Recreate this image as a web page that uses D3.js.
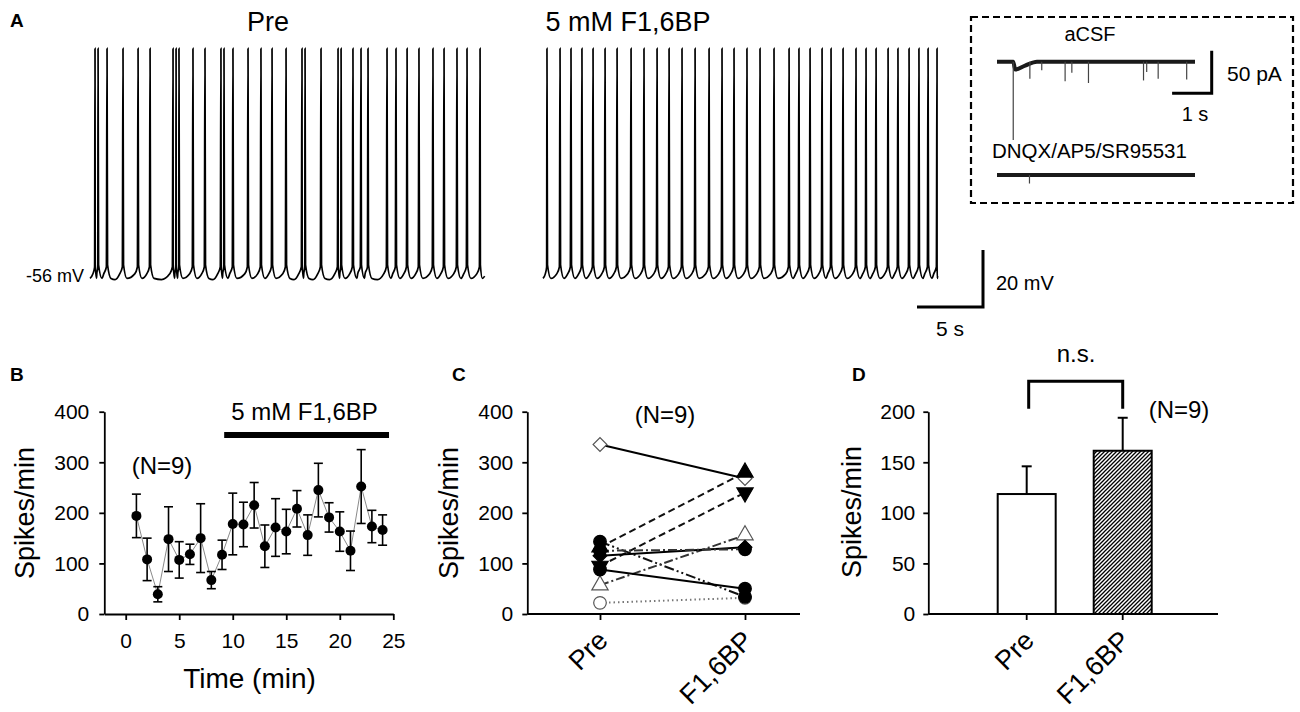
<!DOCTYPE html>
<html>
<head>
<meta charset="utf-8">
<script src="https://cdn.jsdelivr.net/npm/d3@7"></script>
<style>
body { margin: 0; background: #fff; }
svg text { font-family: "Liberation Sans", Arial, Helvetica, sans-serif; fill: #000; }
</style>
</head>
<body>
<svg id="fig" width="1300" height="712"></svg>
<script>
// ---------- data ----------
// A: spike times (s) in the two 30 s current-clamp sweeps
var preSpikes = [0.38, 0.61, 1.29, 2.50, 3.64, 4.55, 6.29, 6.52, 6.74, 7.80, 8.71, 9.92, 10.15,
    10.83, 11.97, 12.95, 13.79, 14.85, 16.06, 16.29, 17.50, 18.79, 19.02, 19.92, 20.53, 21.06,
    22.50, 23.18, 24.02, 24.92, 25.98, 26.82, 27.80, 28.56, 29.55];
var fbpSpikes = [0.30, 1.29, 2.12, 2.95, 3.79, 4.70, 5.61, 6.67, 7.65, 8.64, 9.55, 10.53, 11.52,
    12.58, 13.56, 14.47, 15.45, 16.44, 17.50, 18.64, 19.39, 20.23, 21.14, 21.82, 22.73, 23.71,
    24.47, 25.23, 26.14, 26.89, 27.73, 28.48, 29.17, 29.85];
var sweepDur = 29.9;
var restLabel = '-56 mV';

// A inset: synaptic events (time s, amplitude pA)
var acsfTimes = [0.41, 0.83, 1.13, 1.72, 1.89, 2.31, 3.70, 3.78, 4.07, 4.79];
var acsfAmps = [92, 20, 10, 23, 13, 25, 22, 12, 20, 21];
var blockTimes = [0.82];
var blockAmps = [10];
var insetDur = 5;

// B: time course
var timeMin = [1, 2, 3, 4, 5, 6, 7, 8, 9, 10, 11, 12, 13, 14, 15, 16, 17, 18, 19, 20, 21, 22, 23, 24];
var rateMean = [194, 108, 39, 148, 107, 118, 150, 67, 117, 178, 177, 215, 134, 171, 163, 208, 156, 245, 191, 163, 125, 252, 173, 166];
var rateSem = [43, 42, 15, 64, 36, 20, 68, 17, 29, 61, 44, 45, 42, 57, 44, 36, 40, 53, 29, 39, 39, 73, 32, 30];
var drugPeriod = [9.2, 24.6];
var bTicksX = [0, 5, 10, 15, 20, 25];
var bTicksY = [0, 100, 200, 300, 400];

// C: individual cells
var conditions = ['Pre', 'F1,6BP'];
var cellPre = [335, 143, 132, 95, 57, 115, 88, 22, 125];
var cellFbp = [268, 34, 280, 240, 156, 132, 50, 32, 128];
var cTicksY = [0, 100, 200, 300, 400];

// D: mean +/- SEM
var barMean = [118.6, 161.4];
var barSem = [27.4, 32.6];
var dTicksY = [0, 50, 100, 150, 200];

// ---------- styles ----------
var cellMarker = ['diamondOpen', 'circle', 'triangle', 'triangleDown', 'triangleOpen', 'diamond', 'circle', 'circleOpen', 'circle'];
var cellDash = [null, '10,3,2,3,2,3', '7,4', '7,4', '9,3,2,3', null, null, '1.5,3', '9,3,2,3'];
var cellStroke = ['#000', '#111', '#111', '#111', '#333', '#000', '#000', '#777', '#333'];

var svg = d3.select('#fig');

function label(x, y, s, size, anchor, weight) {
    return svg.append('text')
        .attr('x', x).attr('y', y)
        .attr('font-size', size)
        .attr('text-anchor', anchor || 'start')
        .attr('font-weight', weight || 'normal')
        .text(s);
}

function styleAxis(g, size) {
    g.attr('font-family', null).attr('font-size', null);
    g.selectAll('path, line').attr('stroke', '#000').attr('stroke-width', 1.8);
    g.selectAll('text').attr('font-size', size);
}

// ================= Panel A =================
label(10, 27, 'A', 19, 'start', 'bold');
label(268, 31, 'Pre', 27, 'middle');
label(628, 31, '5 mM F1,6BP', 27, 'middle');

var vY = d3.scaleLinear().domain([-56, -36]).range([275, 218]);
var preX = d3.scaleLinear().domain([0, 30]).range([90, 486]);
var fbpX = d3.scaleLinear().domain([0, 30]).range([543, 939]);

// build the membrane potential path around each spike time
function sweep(spikes, dur) {
    var pts = [[0, -57.2]];
    for (var i = 0; i < spikes.length; i++) {
        var t = spikes[i];
        var before = t - (i ? spikes[i - 1] : 0);
        var after = (i < spikes.length - 1 ? spikes[i + 1] : dur) - t;
        var fb = Math.min(1, before / 0.6), fa = Math.min(1, after / 0.6);
        if (before > 1.2) pts.push([t - before / 2, -57.6]);
        pts.push([t - 0.25 * fb, -55.6], [t - 0.05 * fb, -53.2], [t, 23.5],
                 [t + 0.04 * fa, -52.4], [t + 0.3 * fa, -57.2]);
    }
    pts.push([dur, -56.4]);
    pts.sort(function(a, b) { return a[0] - b[0]; });
    return pts;
}

[[preSpikes, preX], [fbpSpikes, fbpX]].forEach(function(s) {
    var line = d3.line()
        .x(function(d) { return s[1](d[0]); })
        .y(function(d) { return vY(d[1]); })
        .curve(d3.curveMonotoneX);
    svg.append('path')
        .attr('d', line(sweep(s[0], sweepDur)))
        .attr('fill', 'none')
        .attr('stroke', '#000')
        .attr('stroke-width', 1.7);
});

label(84, 282, restLabel, 18, 'end');

// scale bar 20 mV / 5 s
var barX = 983, barY = 307;
var mv20 = vY(-56) - vY(-36), s5 = preX(5) - preX(0);
svg.append('path')
    .attr('d', 'M' + (barX - s5) + ',' + barY + 'H' + barX + 'V' + (barY - mv20))
    .attr('fill', 'none').attr('stroke', '#000').attr('stroke-width', 3);
label(996, 290, '20 mV', 20, 'start');
label(barX - s5 / 2, 336, '5 s', 21, 'middle');

// inset
svg.append('rect')
    .attr('x', 971).attr('y', 17).attr('width', 322).attr('height', 186)
    .attr('fill', 'none').attr('stroke', '#000').attr('stroke-width', 2.2)
    .attr('stroke-dasharray', '7,4');

var insX = d3.scaleLinear().domain([0, insetDur]).range([997, 1195]);
var acsfY = d3.scaleLinear().domain([0, -50]).range([61.7, 104.3]);
var blockY = d3.scaleLinear().domain([0, -50]).range([175, 217.6]);

function currentTrace(times, amps, yS) {
    var band = [[0, 0]];
    times.forEach(function(t, i) {
        if (amps[i] > 50) band.push([t, 0], [t + 0.05, -amps[i] * 0.1], [t + 0.3, -amps[i] * 0.05], [t + 0.6, 0]);
    });
    band.push([insetDur, 0]);
    svg.append('path')
        .attr('d', d3.line().x(function(d) { return insX(d[0]); }).y(function(d) { return yS(d[1]); })
            .curve(d3.curveMonotoneX)(band))
        .attr('fill', 'none').attr('stroke', '#1a1a1a').attr('stroke-width', 4);
    svg.append('g').selectAll('line')
        .data(times)
        .join('line')
        .attr('x1', function(d) { return insX(d); })
        .attr('x2', function(d) { return insX(d); })
        .attr('y1', yS(0))
        .attr('y2', function(d, i) { return yS(-amps[i]); })
        .attr('stroke', '#444').attr('stroke-width', 1.2);
}
currentTrace(acsfTimes, acsfAmps, acsfY);
currentTrace(blockTimes, blockAmps, blockY);

label(1090, 41, 'aCSF', 20, 'middle');
label(992, 158, 'DNQX/AP5/SR95531', 20.5, 'start');

var ibX = 1211.7, ibY = 93.3;
var pa50 = acsfY(-50) - acsfY(0), s1 = insX(1) - insX(0);
svg.append('path')
    .attr('d', 'M' + (ibX - s1) + ',' + ibY + 'H' + ibX + 'V' + (ibY - pa50))
    .attr('fill', 'none').attr('stroke', '#000').attr('stroke-width', 3);
label(1227, 81, '50 pA', 21, 'start');
label(1195, 121, '1 s', 20, 'middle');

// ================= Panel B =================
label(10, 381, 'B', 19, 'start', 'bold');

var xB = d3.scaleLinear().domain([-2, 25]).range([104.3, 393.3]);
var yB = d3.scaleLinear().domain([0, 400]).range([614, 411.7]);

svg.append('g').attr('transform', 'translate(0,614)')
    .call(d3.axisBottom(xB).tickValues(bTicksX).tickSize(6).tickSizeOuter(0).tickPadding(13))
    .call(styleAxis, 21);
svg.append('g').attr('transform', 'translate(104.3,0)')
    .call(d3.axisLeft(yB).tickValues(bTicksY).tickSize(5).tickSizeOuter(0).tickPadding(10))
    .call(styleAxis, 21);

label(249.5, 688, 'Time (min)', 28, 'middle');
svg.append('text').attr('transform', 'translate(34,513) rotate(-90)')
    .attr('text-anchor', 'middle').attr('font-size', 27).text('Spikes/min');

var bData = timeMin.map(function(t, i) { return { t: t, m: rateMean[i], e: rateSem[i] }; });

svg.append('path')
    .attr('d', d3.line().x(function(d) { return xB(d.t); }).y(function(d) { return yB(d.m); })(bData))
    .attr('fill', 'none').attr('stroke', '#8a8a8a').attr('stroke-width', 1);

var eb = svg.append('g').attr('stroke', '#000').attr('stroke-width', 1.6);
eb.selectAll('.v').data(bData).join('line')
    .attr('x1', function(d) { return xB(d.t); }).attr('x2', function(d) { return xB(d.t); })
    .attr('y1', function(d) { return yB(d.m - d.e); }).attr('y2', function(d) { return yB(d.m + d.e); });
eb.selectAll('.top').data(bData).join('line')
    .attr('x1', function(d) { return xB(d.t) - 4.5; }).attr('x2', function(d) { return xB(d.t) + 4.5; })
    .attr('y1', function(d) { return yB(d.m + d.e); }).attr('y2', function(d) { return yB(d.m + d.e); });
eb.selectAll('.bot').data(bData).join('line')
    .attr('x1', function(d) { return xB(d.t) - 4.5; }).attr('x2', function(d) { return xB(d.t) + 4.5; })
    .attr('y1', function(d) { return yB(d.m - d.e); }).attr('y2', function(d) { return yB(d.m - d.e); });

svg.append('g').selectAll('circle').data(bData).join('circle')
    .attr('cx', function(d) { return xB(d.t); })
    .attr('cy', function(d) { return yB(d.m); })
    .attr('r', 5).attr('fill', '#000');

svg.append('line')
    .attr('x1', xB(drugPeriod[0])).attr('x2', xB(drugPeriod[1]))
    .attr('y1', yB(354)).attr('y2', yB(354))
    .attr('stroke', '#000').attr('stroke-width', 6);
label(304.5, 420, '5 mM F1,6BP', 24, 'middle');
label(162, 474, '(N=9)', 24, 'middle');

// ================= Panel C =================
label(452, 381, 'C', 19, 'start', 'bold');

var xC = d3.scalePoint().domain(conditions).range([600, 745]);
var yC = d3.scaleLinear().domain([0, 400]).range([614, 411.7]);

svg.append('line').attr('x1', 527.3).attr('x2', 800).attr('y1', 614).attr('y2', 614)
    .attr('stroke', '#000').attr('stroke-width', 1.8);
var cxAxis = svg.append('g').attr('transform', 'translate(0,614)')
    .call(d3.axisBottom(xC).tickSize(6).tickSizeOuter(0))
    .call(styleAxis, 27);
cxAxis.select('.domain').remove();
cxAxis.selectAll('text').attr('x', 0).attr('y', 0).attr('dy', 0)
    .attr('text-anchor', 'end').attr('transform', 'translate(9,28) rotate(-45)');
svg.append('g').attr('transform', 'translate(527.3,0)')
    .call(d3.axisLeft(yC).tickValues(cTicksY).tickSize(5).tickSizeOuter(0).tickPadding(9))
    .call(styleAxis, 21);
svg.append('text').attr('transform', 'translate(457.5,513) rotate(-90)')
    .attr('text-anchor', 'middle').attr('font-size', 27).text('Spikes/min');
label(665, 423, '(N=9)', 24, 'middle');

var cells = cellPre.map(function(v, i) { return { i: i, pre: v, post: cellFbp[i] }; });

svg.append('g').selectAll('line').data(cells).join('line')
    .attr('x1', xC('Pre')).attr('x2', xC('F1,6BP'))
    .attr('y1', function(d) { return yC(d.pre); })
    .attr('y2', function(d) { return yC(d.post); })
    .attr('stroke', function(d) { return cellStroke[d.i]; })
    .attr('stroke-width', 2)
    .attr('stroke-dasharray', function(d) { return cellDash[d.i]; });

function markerPath(kind) {
    if (kind.indexOf('circle') === 0) return d3.symbol(d3.symbolCircle, 125)();
    if (kind.indexOf('triangle') === 0) return d3.symbol(d3.symbolTriangle, 115)();
    return d3.symbol(d3.symbolSquare, 95)();
}
function markerRot(kind) {
    if (kind === 'triangleDown') return ' rotate(180)';
    if (kind.indexOf('diamond') === 0) return ' rotate(45)';
    return '';
}
var cMarks = [];
cells.forEach(function(d) {
    cMarks.push({ k: cellMarker[d.i], c: 'Pre', v: d.pre });
    cMarks.push({ k: cellMarker[d.i], c: 'F1,6BP', v: d.post });
});
// open symbols underneath, filled on top
cMarks.sort(function(a, b) { return (b.k.indexOf('Open') >= 0) - (a.k.indexOf('Open') >= 0); });
svg.append('g').selectAll('path').data(cMarks).join('path')
    .attr('d', function(d) { return markerPath(d.k); })
    .attr('transform', function(d) { return 'translate(' + xC(d.c) + ',' + yC(d.v) + ')' + markerRot(d.k); })
    .attr('fill', function(d) { return d.k.indexOf('Open') >= 0 ? '#fff' : '#000'; })
    .attr('stroke', function(d) { return d.k.indexOf('Open') >= 0 ? '#555' : '#000'; })
    .attr('stroke-width', 1.2);

// ================= Panel D =================
label(852, 381, 'D', 19, 'start', 'bold');

var defs = svg.append('defs');
var pat = defs.append('pattern').attr('id', 'hatch')
    .attr('patternUnits', 'userSpaceOnUse').attr('width', 4).attr('height', 4);
pat.append('rect').attr('width', 4).attr('height', 4).attr('fill', '#fff');
pat.append('path').attr('d', 'M-1,1 l2,-2 M0,4 l4,-4 M3,5 l2,-2')
    .attr('stroke', '#000').attr('stroke-width', 1.3);

var xD = d3.scaleBand().domain(conditions).range([997.7, 1151.7]).paddingInner(0.396).paddingOuter(0);
var yD = d3.scaleLinear().domain([0, 200]).range([614, 411.7]);

svg.append('line').attr('x1', 928.3).attr('x2', 1218).attr('y1', 614).attr('y2', 614)
    .attr('stroke', '#000').attr('stroke-width', 1.8);

var dBars = conditions.map(function(c, i) { return { c: c, m: barMean[i], e: barSem[i] }; });
var cx = function(d) { return xD(d.c) + xD.bandwidth() / 2; };

var ebD = svg.append('g').attr('stroke', '#000').attr('stroke-width', 2);
ebD.selectAll('.v').data(dBars).join('line')
    .attr('x1', cx).attr('x2', cx)
    .attr('y1', function(d) { return yD(d.m); }).attr('y2', function(d) { return yD(d.m + d.e); });
ebD.selectAll('.cap').data(dBars).join('line')
    .attr('x1', function(d) { return cx(d) - 5; }).attr('x2', function(d) { return cx(d) + 5; })
    .attr('y1', function(d) { return yD(d.m + d.e); }).attr('y2', function(d) { return yD(d.m + d.e); });

svg.append('g').selectAll('rect').data(dBars).join('rect')
    .attr('x', function(d) { return xD(d.c); })
    .attr('y', function(d) { return yD(d.m); })
    .attr('width', xD.bandwidth())
    .attr('height', function(d) { return yD(0) - yD(d.m); })
    .attr('fill', function(d, i) { return i ? 'url(#hatch)' : '#fff'; })
    .attr('stroke', '#000').attr('stroke-width', 2);

var dxAxis = svg.append('g').attr('transform', 'translate(0,614)')
    .call(d3.axisBottom(xD).tickSize(6).tickSizeOuter(0))
    .call(styleAxis, 27);
dxAxis.select('.domain').remove();
dxAxis.selectAll('text').attr('x', 0).attr('y', 0).attr('dy', 0)
    .attr('text-anchor', 'end').attr('transform', 'translate(9,28) rotate(-45)');
svg.append('g').attr('transform', 'translate(928.3,0)')
    .call(d3.axisLeft(yD).tickValues(dTicksY).tickSize(5).tickSizeOuter(0).tickPadding(8))
    .call(styleAxis, 21);
svg.append('text').attr('transform', 'translate(861,512) rotate(-90)')
    .attr('text-anchor', 'middle').attr('font-size', 27).text('Spikes/min');

// significance bracket
svg.append('path')
    .attr('d', 'M' + (cx(dBars[0]) + 2) + ',' + yD(203) + 'V' + yD(230) + 'H' + cx(dBars[1]) + 'V' + yD(203))
    .attr('fill', 'none').attr('stroke', '#000').attr('stroke-width', 3);
label(1076, 362, 'n.s.', 24, 'middle');
label(1179, 418, '(N=9)', 24, 'middle');
</script>
</body>
</html>
